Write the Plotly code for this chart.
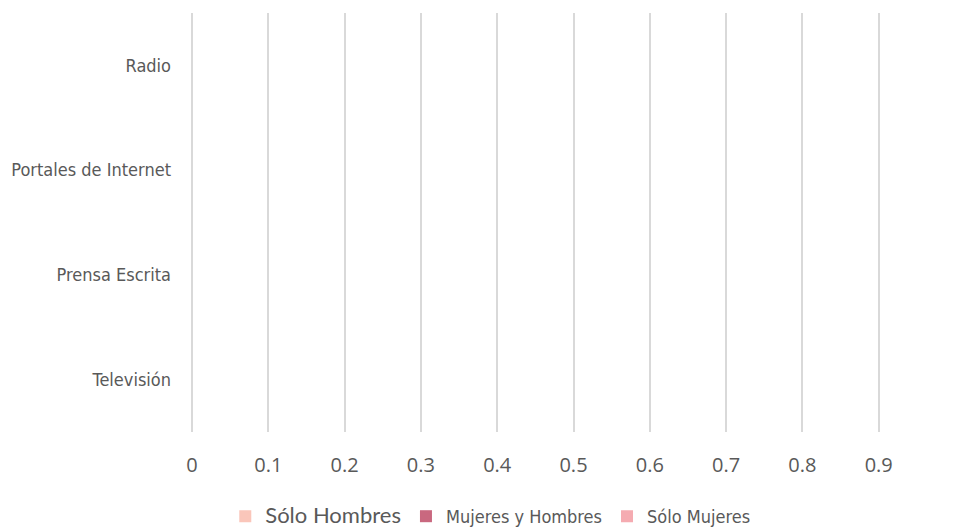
import plotly.graph_objects as go

categories = ["Televisión", "Prensa Escrita", "Portales de Internet", "Radio"]
solo_hombres = [0, 0, 0, 0]
mujeres_y_hombres = [0, 0, 0, 0]
solo_mujeres = [0, 0, 0, 0]
x_ticks = [0, 0.1, 0.2, 0.3, 0.4, 0.5, 0.6, 0.7, 0.8, 0.9, 1]

narrow = "Liberation Sans Narrow, DejaVu Sans Condensed, sans-serif"
wide = "Open Sans, Lato, sans-serif"

fig = go.Figure()
fig.add_trace(go.Bar(y=categories, x=solo_hombres, orientation="h",
                     name="<span style='font-family:Lato, Open Sans; font-size:22px'>Sólo Hombres</span>",
                     marker=dict(color="#FAC6BA", line=dict(width=0))))
fig.add_trace(go.Bar(y=categories, x=mujeres_y_hombres, orientation="h",
                     name="Mujeres y Hombres",
                     marker=dict(color="#C9687F", line=dict(width=0))))
fig.add_trace(go.Bar(y=categories, x=solo_mujeres, orientation="h",
                     name="Sólo Mujeres",
                     marker=dict(color="#F5ABB1", line=dict(width=0))))

fig.update_layout(
    template="none",
    width=955, height=527,
    margin=dict(l=184, r=8, t=5, b=103, autoexpand=False),
    plot_bgcolor="white", paper_bgcolor="white",
    barmode="group",
    showlegend=True,
    legend=dict(orientation="h", xref="container", yref="container",
                x=0.505, xanchor="center", y=0.0, yanchor="bottom",
                font=dict(family=narrow, size=18, color="#595959"),
                itemwidth=30, traceorder="normal"),
    xaxis=dict(range=[0, 1], tickvals=x_ticks, ticktext=[str(t) for t in x_ticks],
               showgrid=True, gridcolor="#D9D9D9", gridwidth=1.5,
               zeroline=True, zerolinecolor="#D9D9D9", zerolinewidth=1.5,
               showline=False, ticks="", automargin=False,
               ticklabeloverflow="allow",
               ticklabelstandoff=19,
               tickfont=dict(family=wide, size=20, color="#595959")),
    yaxis=dict(categoryorder="array", categoryarray=categories,
               showgrid=False, zeroline=False, showline=False, ticks="",
               automargin=False,
               ticklabelstandoff=20,
               tickfont=dict(family=narrow, size=18, color="#595959")),
)

fig.write_html("out.html")
